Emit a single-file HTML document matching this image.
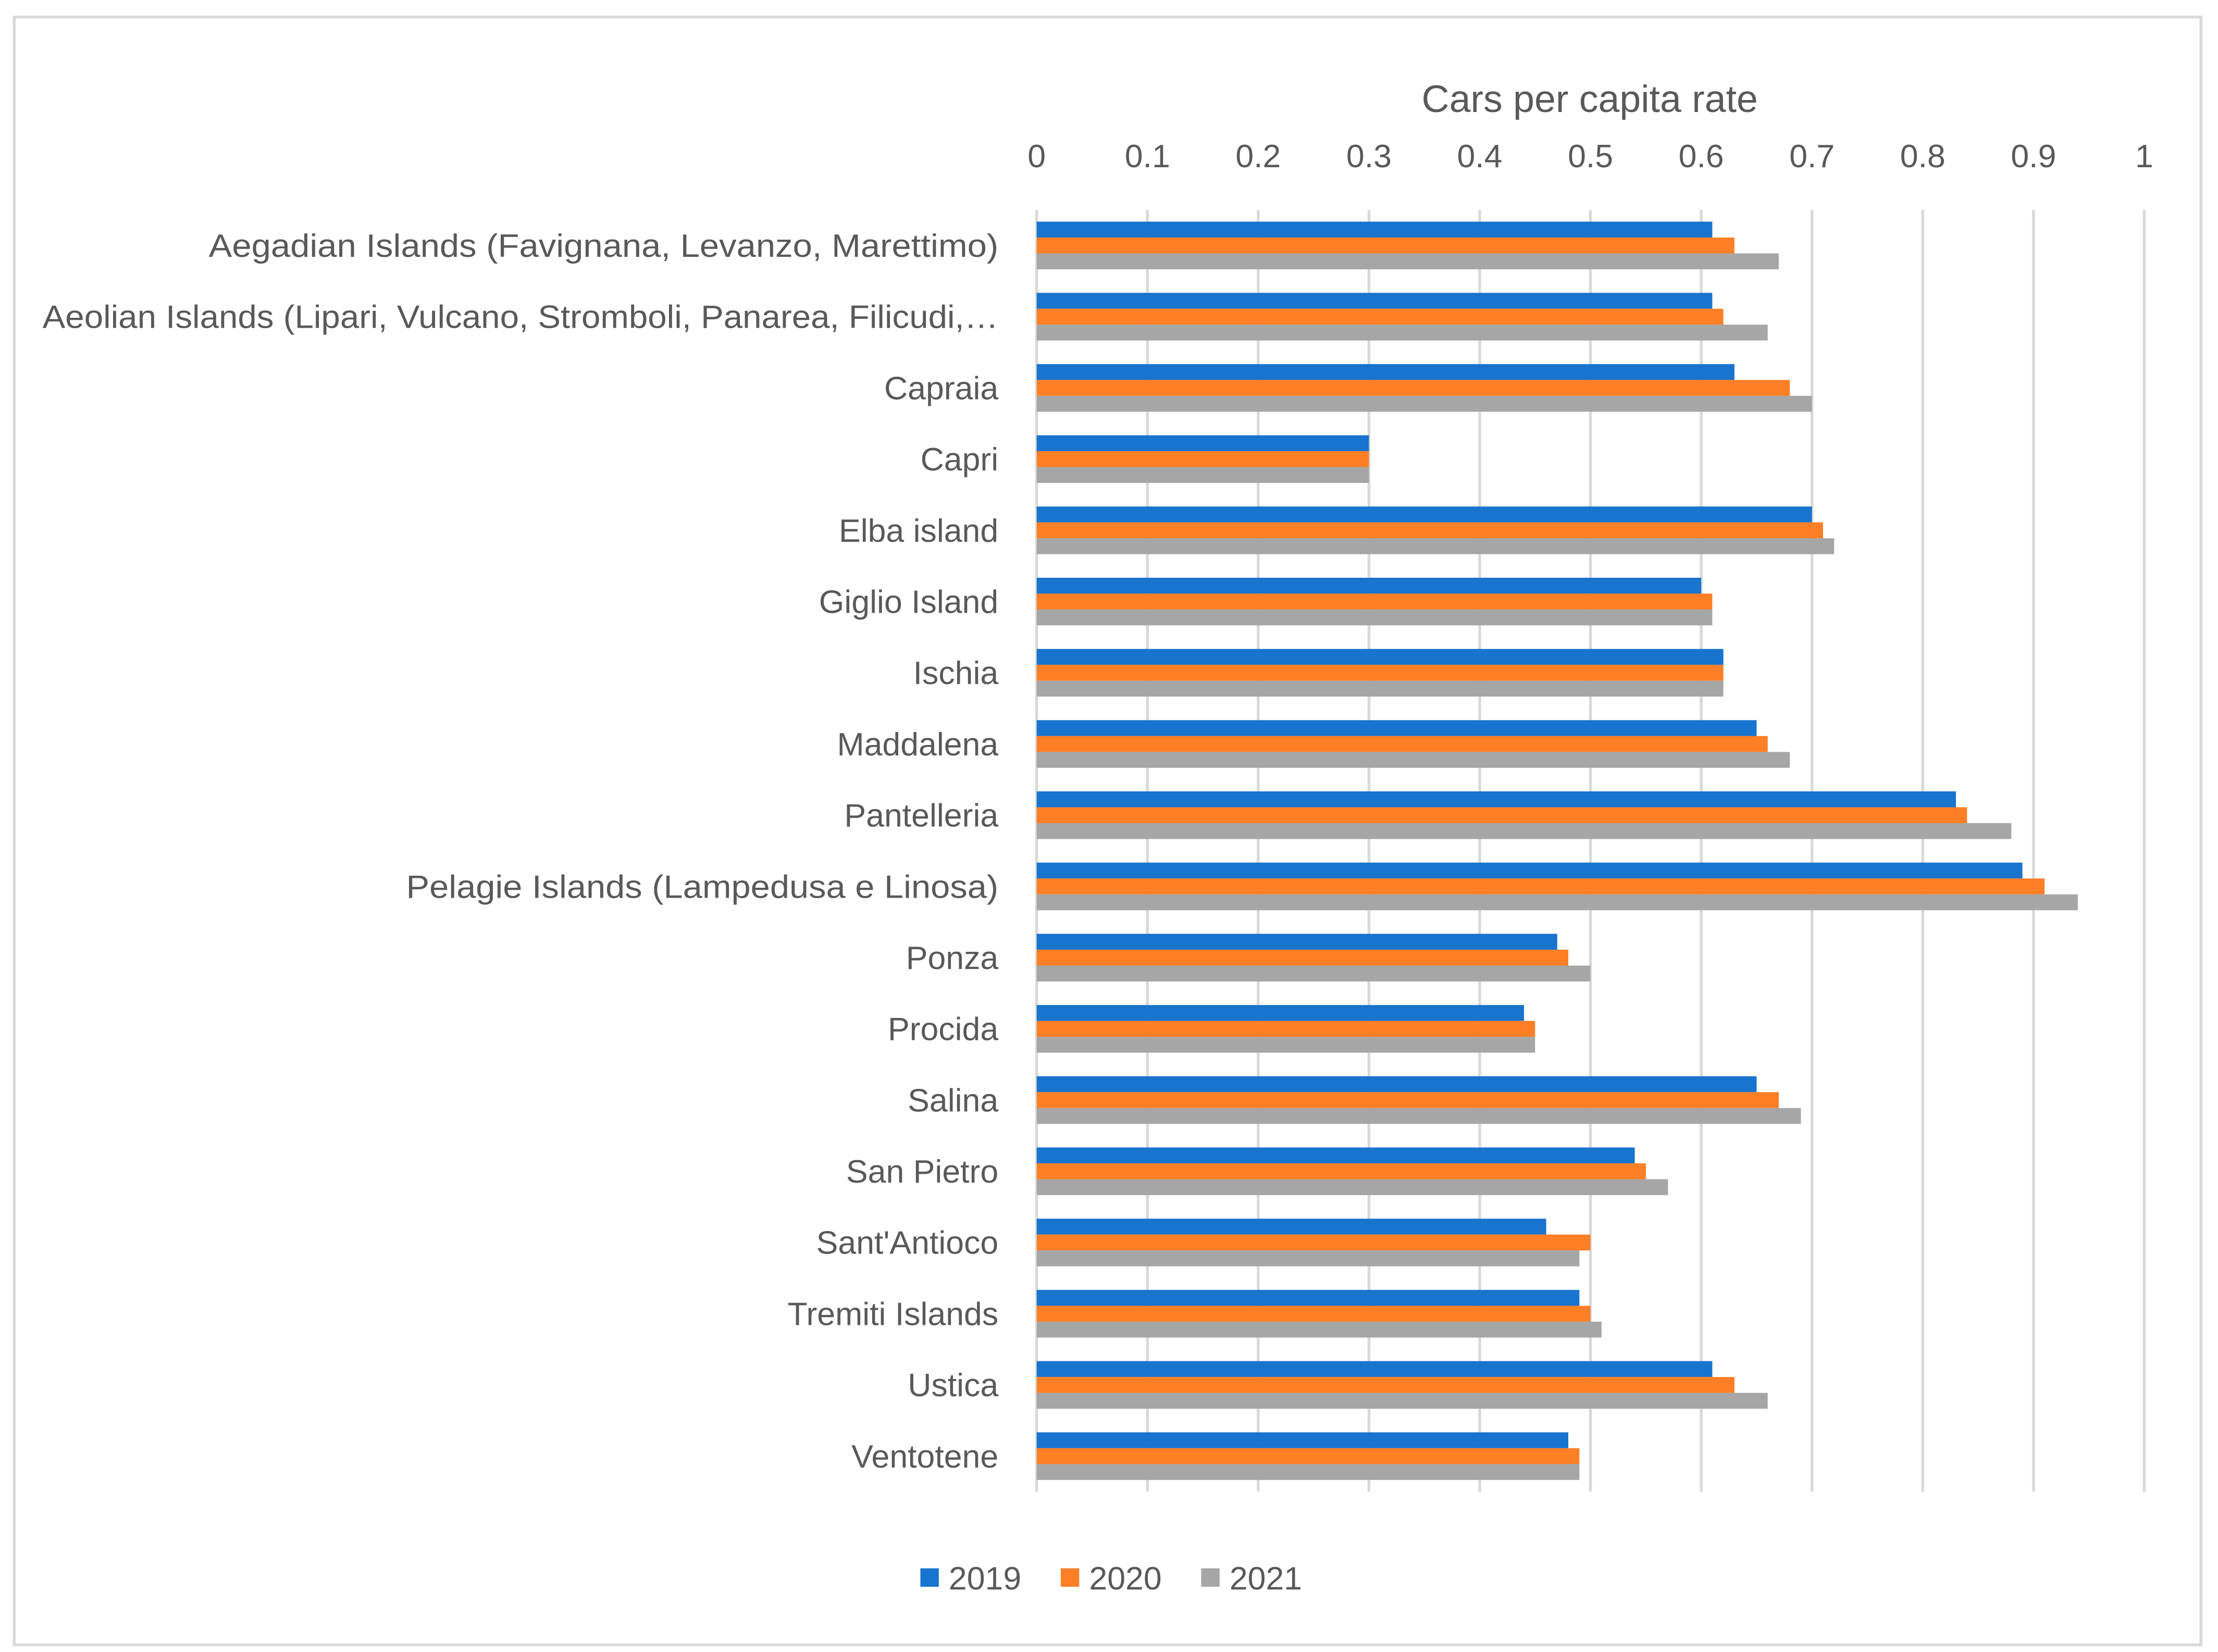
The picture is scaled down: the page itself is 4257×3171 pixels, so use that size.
<!DOCTYPE html>
<html><head><meta charset="utf-8"><style>html,body{margin:0;padding:0;background:#fff}svg{display:block}</style></head>
<body>
<svg id="chart" width="4257" height="3171" viewBox="0 0 1564 1165" preserveAspectRatio="none" xmlns="http://www.w3.org/2000/svg" font-family="'Liberation Sans', sans-serif">
<rect x="10" y="12" width="1542" height="1148" fill="#fff" stroke="#d9d9d9" stroke-width="2"/>
<text x="1121" y="79" text-anchor="middle" font-size="27" fill="#595959">Cars per capita rate</text>
<g id="grid"></g><g id="ticks"></g><g id="bars"></g><g id="labels"></g>
<g>
<rect x="649" y="1106" width="13" height="13" fill="#1874cd"/>
<text x="669" y="1121" font-size="23" fill="#595959">2019</text>
<rect x="748" y="1106" width="13" height="13" fill="#fe7f25"/>
<text x="768" y="1121" font-size="23" fill="#595959">2020</text>
<rect x="847" y="1106" width="13" height="13" fill="#a6a6a6"/>
<text x="867" y="1121" font-size="23" fill="#595959">2021</text>
</g>
</svg>
<script>
const categories = ["Aegadian Islands (Favignana, Levanzo, Marettimo)","Aeolian Islands (Lipari, Vulcano, Stromboli, Panarea, Filicudi,…","Capraia","Capri","Elba island","Giglio Island","Ischia","Maddalena","Pantelleria","Pelagie Islands (Lampedusa e Linosa)","Ponza","Procida","Salina","San Pietro","Sant'Antioco","Tremiti Islands","Ustica","Ventotene"];
const s2019 = [0.61,0.61,0.63,0.30,0.70,0.60,0.62,0.65,0.83,0.89,0.47,0.44,0.65,0.54,0.46,0.49,0.61,0.48];
const s2020 = [0.63,0.62,0.68,0.30,0.71,0.61,0.62,0.66,0.84,0.91,0.48,0.45,0.67,0.55,0.50,0.50,0.63,0.49];
const s2021 = [0.67,0.66,0.70,0.30,0.72,0.61,0.62,0.68,0.88,0.94,0.50,0.45,0.69,0.57,0.49,0.51,0.66,0.49];
const tickLabels = ["0","0.1","0.2","0.3","0.4","0.5","0.6","0.7","0.8","0.9","1"];
const tickValues = [0,0.1,0.2,0.3,0.4,0.5,0.6,0.7,0.8,0.9,1];

const NS="http://www.w3.org/2000/svg";
const X0=731,X1=1512,Y0=148,Y1=1052;
const xs=v=>X0+(X1-X0)*v;
const band=(Y1-Y0)/categories.length;
const yb=i=>Y0+band*i;
function mk(tag,attrs,parent){const e=document.createElementNS(NS,tag);for(const k in attrs)e.setAttribute(k,attrs[k]);document.getElementById(parent).appendChild(e);return e;}
tickValues.forEach((v,i)=>{
  const l=mk('line',{x1:xs(v),x2:xs(v),y1:Y0,y2:Y1,stroke:'#d9d9d9','stroke-width':2},'grid');
  
  
  const t=mk('text',{x:xs(v),y:118,'text-anchor':'middle','font-size':23,fill:'#595959'},'ticks');
  t.textContent=tickLabels[i];
  
  
});
const series=[[s2019,'#1874cd','2019'],[s2020,'#fe7f25','2020'],[s2021,'#a6a6a6','2021']];
const bh=11.2;
categories.forEach((c,i)=>{
  const top=yb(i)+(band-3*bh)/2;
  series.forEach((s,j)=>{
    const r=mk('rect',{x:X0,y:top+j*bh,width:xs(s[0][i])-X0,height:bh,fill:s[1]},'bars');
    
    
  });
  const attrs={x:704,y:yb(i)+band/2+8,'text-anchor':'end','font-size':23,fill:'#595959'};
  if(c.length>60){attrs.textLength=674;attrs.lengthAdjust='spacingAndGlyphs';}
  else if(c.length>30){attrs.textLength=c.length*11.6;attrs.lengthAdjust='spacingAndGlyphs';}
  const t=mk('text',attrs,'labels');
  t.textContent=c;
  
  
});
</script>
</body></html>
